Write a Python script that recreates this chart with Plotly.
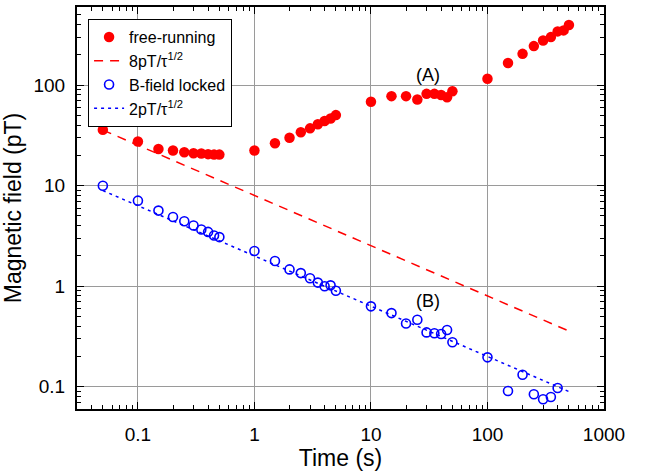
import numpy as np
import plotly.graph_objects as go

# Averaging time (s)
t_free = [0.05, 0.1, 0.15, 0.2, 0.25, 0.3, 0.35, 0.4, 0.45, 0.5,
          1, 1.5, 2, 2.5, 3, 3.5, 4, 4.5, 5,
          10, 15, 20, 25, 30, 35, 40, 45, 50,
          100, 150, 200, 250, 300, 350, 400, 450, 500]
# Free-running magnetic field deviation (pT)
b_free = [36, 27.5, 23.2, 22.4, 21.5, 21, 20.9, 20.6, 20.4, 20.4,
          22.4, 26.4, 30, 34, 37.2, 40.8, 44, 46.7, 50.4,
          68.4, 77.8, 77.8, 72, 82, 82, 80, 76, 87,
          116, 166, 205, 245, 279, 301, 343, 351, 398]

t_lock = [0.05, 0.1, 0.15, 0.2, 0.25, 0.3, 0.35, 0.4, 0.45, 0.5,
          1, 1.5, 2, 2.5, 3, 3.5, 4, 4.5, 5,
          10, 15, 20, 25, 30, 35, 40, 45, 50,
          100, 150, 200, 250, 300, 350, 400]
# B-field locked deviation (pT)
b_lock = [10, 7.1, 5.65, 4.89, 4.43, 4.02, 3.67, 3.47, 3.2, 3.08,
          2.24, 1.78, 1.47, 1.35, 1.2, 1.086, 1.0, 1.02, 0.9,
          0.63, 0.54, 0.426, 0.464, 0.347, 0.34, 0.335, 0.366, 0.277,
          0.196, 0.0906, 0.1315, 0.084, 0.0749, 0.0789, 0.097]

# White-noise reference lines  k / sqrt(tau)
t_fit = np.array([0.05, 500])
k_free = 8.0
k_lock = 2.0

x_ticks = [0.1, 1, 10, 100, 1000]
x_ticklabels = ["0.1", "1", "10", "100", "1000"]
y_ticks = [0.1, 1, 10, 100]
y_ticklabels = ["0.1", "1", "10", "100"]

FONT = "Liberation Sans, Arial, sans-serif"

fig = go.Figure()
fig.add_trace(go.Scatter(
    x=t_free, y=b_free, mode="markers", name="free-running",
    marker=dict(symbol="circle", size=10.5, color="#ff0000"),
))
fig.add_trace(go.Scatter(
    x=t_fit, y=k_free / np.sqrt(t_fit), mode="lines",
    name="8pT/τ<sup>1/2</sup>",
    line=dict(color="#ff0000", width=1.5, dash="9px,7px"),
))
fig.add_trace(go.Scatter(
    x=t_lock, y=b_lock, mode="markers", name="B-field locked",
    marker=dict(symbol="circle-open", size=9, color="#0000ff",
                line=dict(width=1.6, color="#0000ff")),
))
fig.add_trace(go.Scatter(
    x=t_fit, y=k_lock / np.sqrt(t_fit), mode="lines",
    name="2pT/τ<sup>1/2</sup>",
    line=dict(color="#0000ff", width=1.5, dash="3px,4px"),
))

fig.add_annotation(x=np.log10(31), y=np.log10(126), text="(A)",
                   showarrow=False, font=dict(family=FONT, size=18, color="black"))
fig.add_annotation(x=np.log10(31), y=np.log10(0.714), text="(B)",
                   showarrow=False, font=dict(family=FONT, size=18, color="black"))

axis_common = dict(
    type="log",
    showline=True, linecolor="black", linewidth=2, mirror="allticks",
    ticks="inside", ticklen=7, tickwidth=1.2, tickcolor="black",
    showgrid=True, gridcolor="#9a9a9a", gridwidth=1,
    zeroline=False,
    tickfont=dict(family=FONT, size=19, color="black"),
    minor=dict(ticks="inside", ticklen=4, tickwidth=1, tickcolor="black",
               dtick="D1", showgrid=False),
)

fig.update_xaxes(
    **axis_common,
    range=[np.log10(0.03), 3],
    tickvals=x_ticks, ticktext=x_ticklabels,
    ticklabelstandoff=7,
    title=dict(text="Time (s)", font=dict(family=FONT, size=23, color="black"),
               standoff=5),
)
fig.update_yaxes(
    **axis_common,
    range=[np.log10(0.06), np.log10(600)],
    tickvals=y_ticks, ticktext=y_ticklabels,
    ticklabelstandoff=6,
    title=dict(text="Magnetic field (pT)", font=dict(family=FONT, size=23, color="black"),
               standoff=6),
)

fig.update_layout(
    width=646, height=474,
    margin=dict(l=77, r=42, t=5, b=65),
    paper_bgcolor="white", plot_bgcolor="white",
    font=dict(family=FONT, color="black"),
    legend=dict(
        x=0.021, y=0.97, xanchor="left", yanchor="top",
        bgcolor="white", bordercolor="black", borderwidth=1,
        font=dict(family=FONT, size=16, color="black"),
        tracegroupgap=0,
    ),
)

fig.write_html("out.html")
